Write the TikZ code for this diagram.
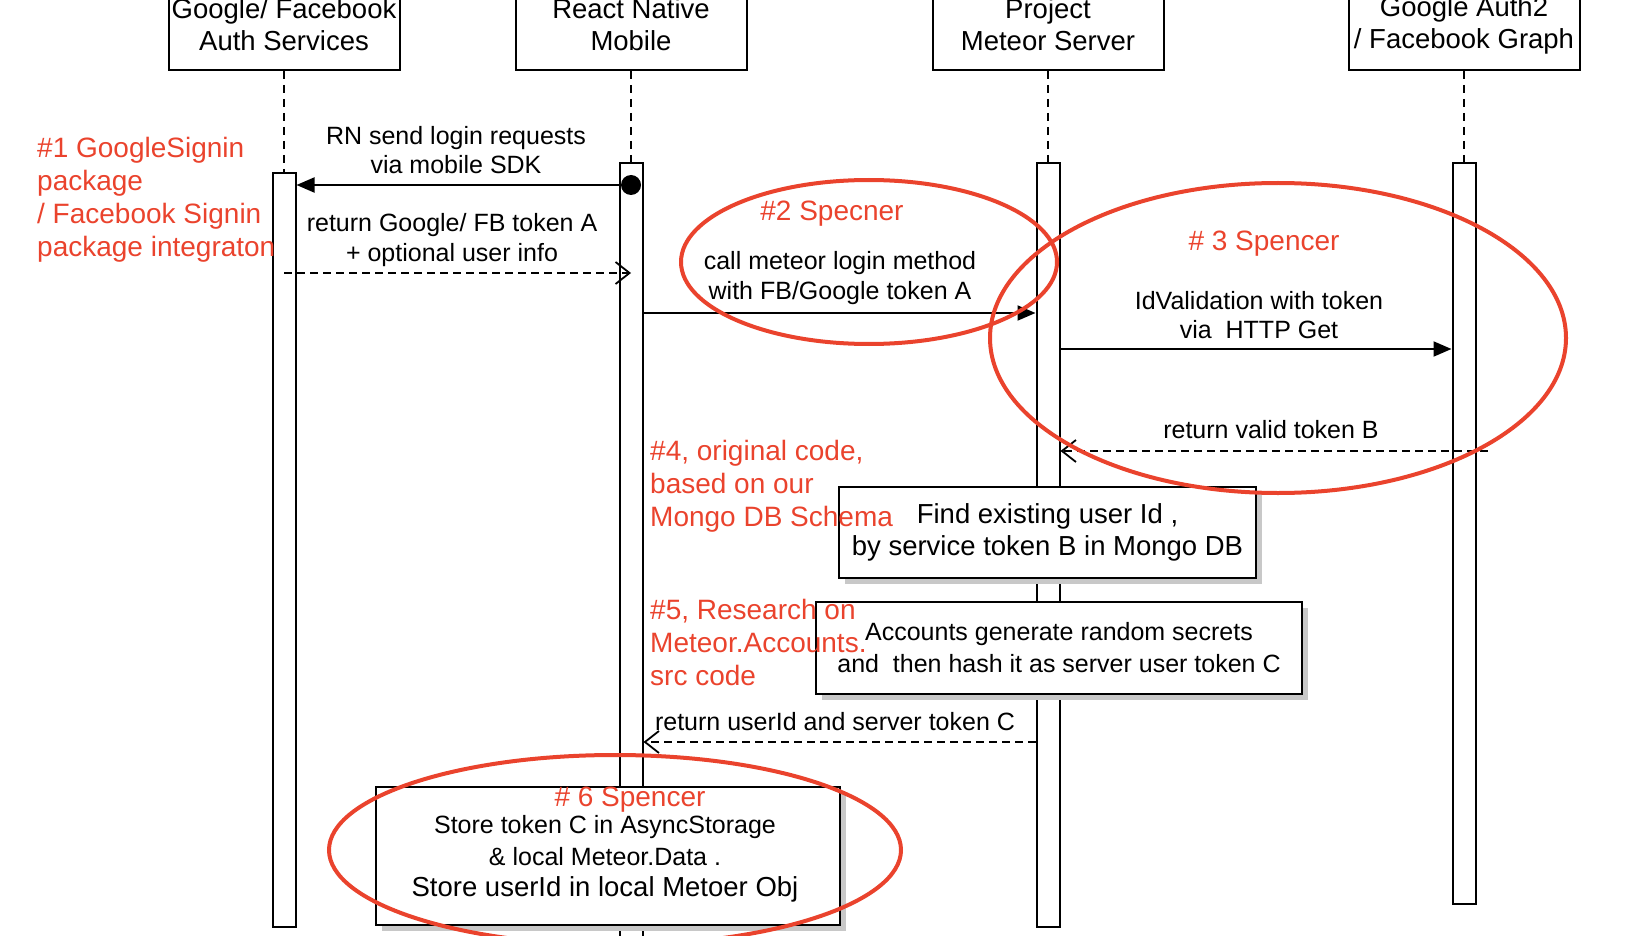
\documentclass[tikz,border=0pt]{standalone}
\usepackage{fontspec}
\setmainfont{Liberation Sans}
\usetikzlibrary{arrows.meta,positioning,shapes,shadows,calc}
\definecolor{notered}{RGB}{234,67,45}
\definecolor{shadowgray}{RGB}{200,200,200}

\begin{document}
\begin{tikzpicture}[x=1pt, y=-1pt]
% Define block styles
\tikzstyle{head} = [rectangle, draw, line width=2pt, fill=white,
    minimum width=231pt, minimum height=90pt, align=center,
    font=\fontsize{27.5}{32}\selectfont, inner sep=0pt]
\tikzstyle{bar} = [rectangle, draw, line width=2pt, fill=white,
    minimum width=23pt, inner sep=0pt, anchor=north]
\tikzstyle{block} = [rectangle, draw, line width=2pt, fill=white,
    align=center, inner sep=0pt,
    drop shadow={shadow xshift=6pt, shadow yshift=-6pt, fill=shadowgray, opacity=1}]
\tikzstyle{msgtext} = [align=center, font=\fontsize{25}{29.5}\selectfont, inner sep=0pt]
\tikzstyle{note} = [text=notered, align=left, font=\fontsize{28}{33}\selectfont, inner sep=0pt]
\tikzstyle{life} = [draw, line width=1.5pt, dash pattern=on 8pt off 6pt]
\tikzstyle{line} = [draw, line width=2pt, -{Triangle[length=18pt, width=15pt]}]
\tikzstyle{reply} = [draw, line width=1.8pt, dash pattern=on 8pt off 5pt,
    -{Straight Barb[length=14pt, width=22pt]}]
\tikzstyle{circ} = [draw=notered, ellipse, line width=4pt, inner sep=0pt]

    \useasboundingbox (0,0) rectangle (1628,936);

    % Place nodes
    \node [head] (google) at (284,25) {Google/ Facebook\\Auth Services};
    \node [head] (mobile) at (631,25) {React Native\\Mobile};
    \node [head] (server) at (1048,25) {Project\\Meteor Server};
    \node [head] (graph) at (1464,25) {Google Auth2\\/ Facebook Graph};

    \coordinate (gtop) at (284,172);
    \coordinate (mtop) at (631,162);
    \coordinate (stop) at (1048,162);
    \coordinate (atop) at (1464,162);
    \path [life] (google) -- (gtop);
    \path [life] (mobile) -- (mtop);
    \path [life] (server) -- (stop);
    \path [life] (graph) -- (atop);

    \node [bar, minimum height=754pt] (gbar) at (gtop) {};
    \node [bar, minimum height=790pt] (mbar) at (mtop) {};
    \node [bar, minimum height=764pt] (sbar) at (stop) {};
    \node [bar, minimum height=741pt] (abar) at (atop) {};

    % Draw edges
    \coordinate (m1) at (mbar |- 0,185);
    \path [line] (m1) -- (gbar.east |- m1);
    \fill (m1) circle (10pt);
    \node [msgtext] (t1) at (456,150) {RN send login requests\\via mobile SDK};

    \coordinate (r2) at (gbar |- 0,273);
    \path [reply] (r2) -- (mbar |- r2);
    \node [msgtext] (t2) at (452,240) {return Google/ FB token A\\+ optional user info};

    \coordinate (m3) at (mbar.east |- 0,313);
    \path [line] (m3) -- (sbar.west |- m3);
    \node [msgtext] (t3) at (840,278) {call meteor login method\\with FB/Google token A};

    \coordinate (m4) at (sbar.east |- 0,349);
    \path [line] (m4) -- (abar.west |- m4);
    \node [msgtext] (t4) at (1259,315) {IdValidation with token\\via\ \ HTTP Get};

    \coordinate (r5) at ($(abar.east |- 0,451)+(11,0)$);
    \path [reply] (r5) -- (sbar.east |- r5);
    \node [msgtext] (t5) at (1271,430) {return valid token B};

    \coordinate (r6) at (sbar.west |- 0,742);
    \path [reply] (r6) -- (mbar.east |- r6);
    \node [msgtext] (t6) at (835,722) {return userId and server token C};

    % Boxes on the server and mobile lines
    \node [block, minimum width=417pt, minimum height=91pt,
        font=\fontsize{27.5}{32}\selectfont] (find) at (1047.5,532.5)
        {Find existing user Id ,\\by service token B in Mongo DB};
    \node [block, minimum width=486pt, minimum height=92pt,
        font=\fontsize{25}{32}\selectfont] (accounts) at (1059,648)
        {Accounts generate random secrets\\and\ \ then hash it as server user token C};
    \node [block, minimum width=464pt, minimum height=138pt] (store) at (608,856) {};
    \node [msgtext, font=\fontsize{25}{31.5}\selectfont] (storetext) at (605,859)
        {Store token C in AsyncStorage\\\& local Meteor.Data .\\
        \fontsize{27.5}{31.5}\selectfont Store userId in local Metoer Obj};

    % Notes
    \node [note, anchor=west] (n1) at (37,200)
        {\#1 GoogleSignin\\package\\/ Facebook Signin\\package integraton};
    \node [note, anchor=west] (n4) at (650,486)
        {\#4, original code,\\based on our\\Mongo DB Schema};
    \node [note, anchor=west] (n5) at (650,642)
        {\#5, Research on\\Meteor.Accounts.\\src code};
    \node [note] (n2) at (832,214) {\#2 Specner};
    \node [note] (n3) at (1264,244) {\# 3 Spencer};
    \node [note] (n6) at (630,800) {\# 6 Spencer};

    \node [circ, minimum width=376pt, minimum height=164pt] (c2) at (869,262) {};
    \node [circ, minimum width=576pt, minimum height=310pt] (c3) at (1278,338) {};
    \node [circ, minimum width=572pt, minimum height=190pt] (c6) at (615,850) {};
\end{tikzpicture}
\end{document}
